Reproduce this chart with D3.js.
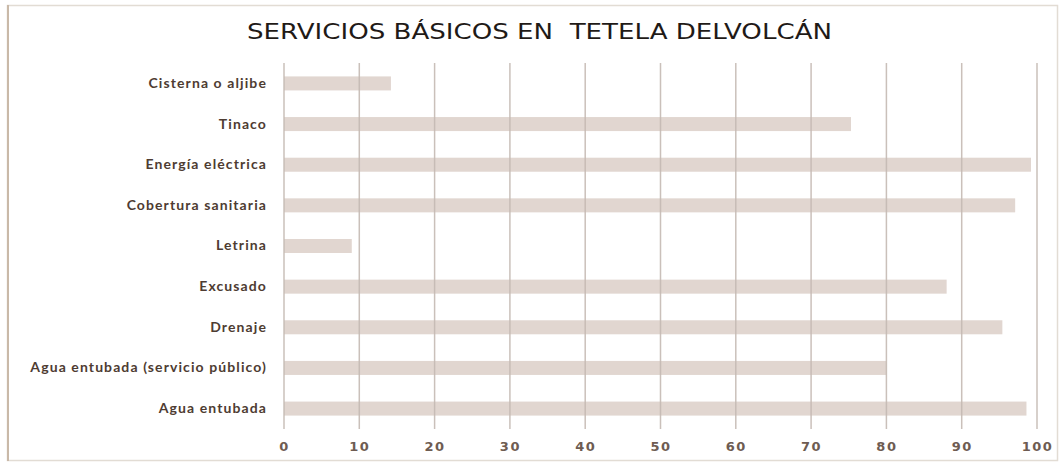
<!DOCTYPE html>
<html>
<head>
<meta charset="utf-8">
<script src="https://cdn.jsdelivr.net/npm/d3@7"></script>
<style>
  html, body { margin: 0; padding: 0; background: #fff; }
  svg { display: block; }
</style>
</head>
<body>
<svg id="chart" width="1062" height="463"></svg>
<script>
// Basic services coverage (%) in Tetela del Volcán
const categories = [
  "Cisterna o aljibe",
  "Tinaco",
  "Energía eléctrica",
  "Cobertura sanitaria",
  "Letrina",
  "Excusado",
  "Drenaje",
  "Agua entubada (servicio público)",
  "Agua entubada"
];
const values = [14.2, 75.3, 99.2, 97.1, 9.0, 88.0, 95.4, 80.0, 98.6];
const tickValues = [0, 10, 20, 30, 40, 50, 60, 70, 80, 90, 100];
const title = "SERVICIOS BÁSICOS EN  TETELA DELVOLCÁN";

const svg = d3.select("#chart");

// outer frame
svg.append("rect")
  .attr("x", 7.5).attr("y", 5.5)
  .attr("width", 1050).attr("height", 455)
  .attr("fill", "#fff")
  .attr("stroke", "#e2dcd4").attr("stroke-width", 1.5);
svg.append("line")
  .attr("x1", 8).attr("x2", 8).attr("y1", 5).attr("y2", 461)
  .attr("stroke", "#c9b9a8").attr("stroke-width", 2);

// title, fitted to its width
svg.append("text")
  .attr("x", 247).attr("y", 39)
  .attr("font-family", "'DejaVu Sans', sans-serif")
  .attr("font-size", 21)
  .attr("fill", "#1f1a17")
  .style("white-space", "pre")
  .attr("textLength", 585)
  .attr("lengthAdjust", "spacingAndGlyphs")
  .text(title);

const x = d3.scaleLinear().domain([0, 100]).range([284, 1037]);
const y = d3.scaleBand().domain(categories).range([63, 429]).paddingInner(0.655).paddingOuter(0.33);

// bars
svg.append("g").selectAll("rect")
  .data(categories)
  .join("rect")
  .attr("x", x(0))
  .attr("y", d => y(d))
  .attr("width", (d, i) => x(values[i]) - x(0))
  .attr("height", y.bandwidth())
  .attr("fill", "#e1d6d0");

// vertical gridlines
svg.append("g").selectAll("line")
  .data(tickValues)
  .join("line")
  .attr("x1", d => x(d)).attr("x2", d => x(d))
  .attr("y1", 63).attr("y2", 429)
  .attr("stroke", "#c4b9b2")
  .attr("stroke-opacity", 0.9)
  .attr("stroke-width", 1.5);

// x axis tick labels
const xAxis = d3.axisBottom(x).tickValues(tickValues).tickSize(0).tickPadding(0);
const gx = svg.append("g").attr("transform", "translate(0,442)").call(xAxis);
gx.select(".domain").remove();
gx.selectAll("text")
  .attr("font-family", "'DejaVu Sans', sans-serif")
  .attr("font-size", 13)
  .attr("font-weight", "bold")
  .attr("letter-spacing", "1.5px")
  .attr("fill", "#6e5c52");

// category labels
const yAxis = d3.axisLeft(y).tickSize(0).tickPadding(0);
const gy = svg.append("g").attr("transform", "translate(267,0)").call(yAxis);
gy.select(".domain").remove();
gy.selectAll("text")
  .attr("font-family", "Lato, 'Open Sans', sans-serif")
  .attr("font-size", 14)
  .attr("font-weight", "bold")
  .attr("letter-spacing", "1.1px")
  .attr("fill", "#4e3c32");
</script>
</body>
</html>
